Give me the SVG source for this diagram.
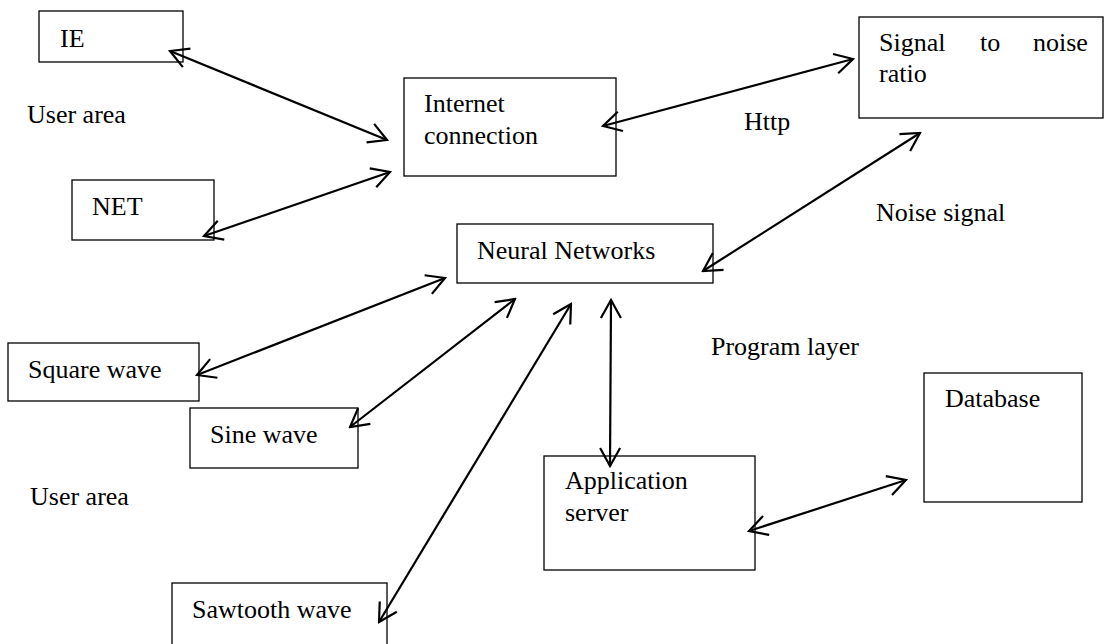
<svg xmlns="http://www.w3.org/2000/svg" width="1104" height="644" viewBox="0 0 1104 644">
<style>
.box{fill:#fff;stroke:#000;stroke-width:1.3}
.t{font-family:"Liberation Serif","Times New Roman",serif;font-size:26px;fill:#000}
.c{stroke:#000;stroke-width:2.2;fill:none;marker-start:url(#ah);marker-end:url(#ah)}
</style>
<defs>
<marker id="ah" markerUnits="userSpaceOnUse" viewBox="-22 -13 24 26" markerWidth="24" markerHeight="26" refX="0" refY="0" orient="auto-start-reverse">
<path d="M-18,-10 L0,0 L-18,10" fill="none" stroke="#000" stroke-width="2.2"/>
</marker>
</defs>
<rect width="1104" height="644" fill="#fff"/>
<g id="IE"><rect class="box" x="39" y="11" width="144" height="51"/><text class="t" x="60" y="47">IE</text></g>
<g id="NET"><rect class="box" x="72" y="180" width="142" height="60"/><text class="t" x="92" y="215">NET</text></g>
<g id="internet"><rect class="box" x="404" y="78" width="212" height="98"/><text class="t" x="424" y="112">Internet</text><text class="t" x="424" y="144">connection</text></g>
<g id="snr"><rect class="box" x="859" y="17" width="244" height="101"/><text class="t" x="879" y="51">Signal</text><text class="t" x="980" y="51">to</text><text class="t" x="1033" y="51">noise</text><text class="t" x="879" y="82">ratio</text></g>
<g id="neural"><rect class="box" x="457" y="224" width="256" height="59"/><text class="t" x="477" y="259">Neural Networks</text></g>
<g id="square"><rect class="box" x="8" y="343" width="191" height="58"/><text class="t" x="28" y="378">Square wave</text></g>
<g id="sine"><rect class="box" x="190" y="408" width="168" height="60"/><text class="t" x="210" y="443">Sine wave</text></g>
<g id="sawtooth"><rect class="box" x="172" y="583" width="215" height="70"/><text class="t" x="192" y="618">Sawtooth wave</text></g>
<g id="app"><rect class="box" x="544" y="456" width="211" height="114"/><text class="t" x="565" y="489">Application</text><text class="t" x="565" y="521">server</text></g>
<g id="db"><rect class="box" x="924" y="373" width="158" height="129"/><text class="t" x="945" y="407">Database</text></g>
<g id="labels">
<text class="t" x="27" y="123">User area</text>
<text class="t" x="30" y="505">User area</text>
<text class="t" x="744" y="130">Http</text>
<text class="t" x="876" y="221">Noise signal</text>
<text class="t" x="711" y="355">Program layer</text>
</g>
<g id="connectors">
<line class="c" x1="170" y1="51" x2="387" y2="140"/>
<line class="c" x1="204" y1="236" x2="390" y2="172"/>
<line class="c" x1="603" y1="126" x2="853" y2="59"/>
<line class="c" x1="920" y1="133" x2="703" y2="271"/>
<line class="c" x1="445" y1="278" x2="197" y2="375"/>
<line class="c" x1="515" y1="299" x2="350" y2="427"/>
<line class="c" x1="571" y1="304" x2="379" y2="622"/>
<line class="c" x1="611" y1="300" x2="610" y2="466"/>
<line class="c" x1="749" y1="531" x2="906" y2="480"/>
</g>
</svg>
